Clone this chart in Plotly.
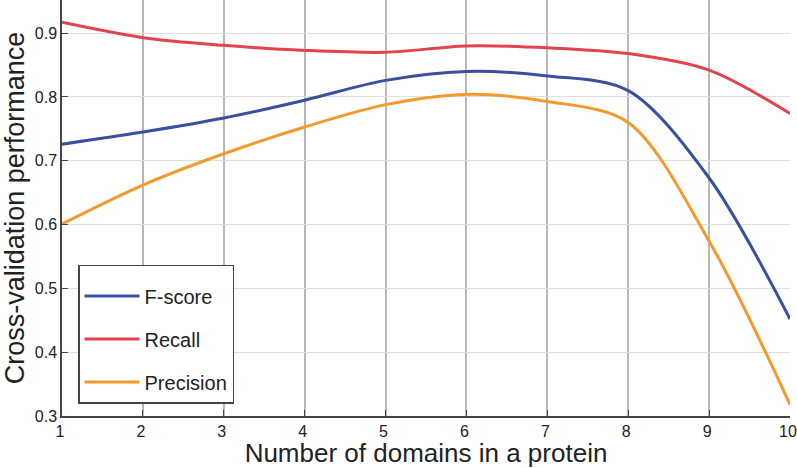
import plotly.graph_objects as go

domains = [1, 2, 3, 4, 5, 6, 7, 8, 9, 10]
fscore = [0.726, 0.745, 0.767, 0.795, 0.826, 0.840, 0.833, 0.810, 0.673, 0.452]
recall = [0.917, 0.893, 0.881, 0.873, 0.870, 0.880, 0.877, 0.868, 0.842, 0.774]
precision = [0.601, 0.662, 0.711, 0.753, 0.788, 0.804, 0.793, 0.760, 0.574, 0.318]

series = [
    ("F-score", fscore, "#3a4f9e"),
    ("Recall", recall, "#e2434c"),
    ("Precision", precision, "#f39a2f"),
]

fig = go.Figure()
for i, (name, vals, color) in enumerate(series):
    fig.add_trace(go.Scatter(
        x=domains, y=vals, name=name, mode="lines",
        line=dict(color=color, width=3, shape="spline", smoothing=0.9),
        legendgroup=f"g{i}",
    ))

fig.update_layout(
    width=797, height=468,
    margin=dict(l=62, r=7, t=0, b=52),
    paper_bgcolor="white", plot_bgcolor="white",
    font=dict(family="Liberation Sans, Arial, sans-serif", color="#222"),
    showlegend=True,
    legend=dict(
        x=0.022, y=0.03, xanchor="left", yanchor="bottom",
        bgcolor="white", bordercolor="#444", borderwidth=1.5,
        font=dict(size=20, color="#222"),
        title=dict(text=" ", font=dict(size=8)),
        tracegroupgap=14, itemwidth=55,
    ),
    xaxis=dict(
        range=[1, 10], tickmode="array", tickvals=domains,
        automargin=False, ticklabeloverflow="allow", ticklabelshift=-2,
        showgrid=True, gridcolor="#b8b8b8", gridwidth=1.5,
        showline=True, linecolor="#444", linewidth=1.5,
        ticks="inside", ticklen=6, tickcolor="#444",
        tickfont=dict(size=16, color="#222"),
        title=dict(text="Number of domains in a protein", font=dict(size=26, color="#222")),
        zeroline=False,
    ),
    yaxis=dict(
        range=[0.3, 0.952], tickmode="array",
        tickvals=[0.3, 0.4, 0.5, 0.6, 0.7, 0.8, 0.9],
        ticktext=["0.3", "0.4", "0.5", "0.6", "0.7", "0.8", "0.9"],
        automargin=False,
        showgrid=True, gridcolor="#dedede", gridwidth=1.2,
        showline=True, linecolor="#444", linewidth=1.5,
        ticks="inside", ticklen=6, tickcolor="#444",
        tickfont=dict(size=16, color="#222"),
        title=dict(text="Cross-validation performance", font=dict(size=27, color="#222")),
        zeroline=False,
    ),
)

fig.write_html(
    "out.html",
    config={"displayModeBar": False},
    post_script="document.body.style.margin='0';document.body.style.overflow='hidden';",
)
